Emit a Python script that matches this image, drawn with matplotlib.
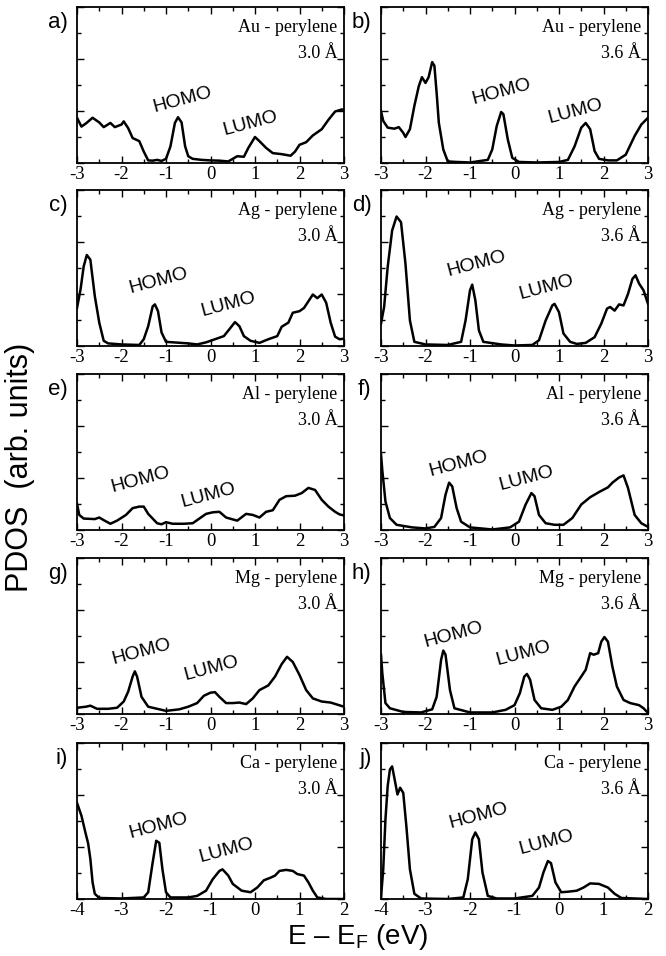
import numpy as np
import matplotlib.pyplot as plt
from matplotlib.ticker import MultipleLocator

plt.rcParams['axes.unicode_minus'] = False
plt.rcParams['mathtext.fontset'] = 'custom'
plt.rcParams['mathtext.rm'] = 'Liberation Sans'
plt.rcParams['mathtext.it'] = 'Liberation Sans:italic'

# ---- PDOS curves (energy in eV, PDOS in arb. units) ----
au30_e = [-3.0, -2.9, -2.8, -2.65, -2.5, -2.4, -2.25, -2.15, -2.0, -1.95, -1.85, -1.75, -1.6, -1.5,
          -1.4, -1.3, -1.2, -1.1, -1.0, -0.9, -0.8, -0.73, -0.65, -0.57, -0.5, -0.4, -0.2, 0.0,
          0.2, 0.4, 0.5, 0.6, 0.75, 0.85, 1.0, 1.1, 1.25, 1.4, 1.6, 1.8, 1.9, 2.0, 2.15, 2.3,
          2.5, 2.65, 2.8, 2.95, 3.0]
au30_pdos = [0.87, 0.70, 0.76, 0.87, 0.78, 0.69, 0.77, 0.69, 0.74, 0.80, 0.67, 0.48, 0.42, 0.22,
             0.05, 0.045, 0.06, 0.04, 0.08, 0.32, 0.77, 0.88, 0.78, 0.32, 0.13, 0.08, 0.06, 0.05,
             0.045, 0.03, 0.08, 0.13, 0.12, 0.29, 0.50, 0.42, 0.29, 0.19, 0.17, 0.14, 0.22, 0.35,
             0.40, 0.53, 0.65, 0.83, 0.99, 1.03, 1.02]

au36_e = [-3.0, -2.95, -2.85, -2.7, -2.6, -2.5, -2.45, -2.35, -2.25, -2.15, -2.08, -2.0, -1.93,
          -1.85, -1.8, -1.75, -1.7, -1.6, -1.5, -1.3, -1.0, -0.6, -0.5, -0.4, -0.3, -0.25, -0.15,
          -0.05, 0.1, 0.5, 1.0, 1.2, 1.35, 1.5, 1.6, 1.7, 1.8, 1.9, 2.1, 2.3, 2.5, 2.7, 2.85, 3.0]
au36_pdos = [1.00, 0.81, 0.68, 0.66, 0.69, 0.58, 0.50, 0.65, 1.10, 1.48, 1.65, 1.54, 1.65,
             1.94, 1.87, 1.35, 0.77, 0.26, 0.03, 0.02, 0.01, 0.06, 0.26, 0.71, 0.98, 0.94, 0.45,
             0.10, 0.02, 0.01, 0.02, 0.06, 0.32, 0.68, 0.77, 0.65, 0.23, 0.08, 0.05, 0.05, 0.16,
             0.52, 0.74, 0.87]

ag30_e = [-3.0, -2.92, -2.85, -2.78, -2.7, -2.6, -2.5, -2.4, -2.3, -2.0, -1.6, -1.5, -1.4, -1.3,
          -1.25, -1.18, -1.1, -1.0, -0.5, -0.3, -0.1, 0.1, 0.3, 0.45, 0.55, 0.65, 0.75, 0.9, 1.1,
          1.3, 1.5, 1.6, 1.75, 1.85, 2.0, 2.1, 2.2, 2.3, 2.4, 2.5, 2.6, 2.7, 2.8, 2.9, 3.0]
ag30_pdos = [0.73, 1.09, 1.53, 1.75, 1.66, 0.96, 0.45, 0.10, 0.05, 0.03, 0.02, 0.13, 0.38, 0.76,
             0.80, 0.67, 0.26, 0.08, 0.05, 0.03, 0.07, 0.13, 0.19, 0.35, 0.46, 0.38, 0.19, 0.10,
             0.06, 0.13, 0.19, 0.37, 0.45, 0.64, 0.67, 0.73, 0.86, 0.99, 0.92, 0.99, 0.83, 0.45,
             0.18, 0.13, 0.14]

ag36_e = [-3.0, -2.93, -2.85, -2.75, -2.65, -2.55, -2.45, -2.35, -2.25, -2.0, -1.5, -1.2, -1.1,
          -1.0, -0.95, -0.88, -0.8, -0.7, -0.3, 0.0, 0.4, 0.55, 0.7, 0.85, 0.9, 1.0, 1.1, 1.25,
          1.4, 1.6, 1.8, 1.95, 2.08, 2.15, 2.25, 2.35, 2.45, 2.55, 2.65, 2.72, 2.8, 2.9, 3.0]
ag36_pdos = [0.43, 0.75, 1.52, 2.22, 2.49, 2.38, 1.58, 0.49, 0.08, 0.03, 0.02, 0.08, 0.49,
             1.07, 1.18, 0.88, 0.30, 0.08, 0.03, 0.01, 0.02, 0.11, 0.49, 0.78, 0.81, 0.65, 0.24,
             0.08, 0.04, 0.06, 0.17, 0.43, 0.72, 0.75, 0.68, 0.80, 0.78, 1.00, 1.29, 1.36, 1.20,
             1.07, 0.81]

al30_e = [-3.0, -2.95, -2.85, -2.6, -2.5, -2.4, -2.25, -2.1, -1.9, -1.75, -1.6, -1.5, -1.4, -1.2,
          -1.1, -1.0, -0.85, -0.6, -0.4, -0.25, -0.1, 0.05, 0.2, 0.35, 0.6, 0.8, 0.95, 1.1, 1.25,
          1.4, 1.55, 1.7, 1.9, 2.05, 2.2, 2.35, 2.5, 2.65, 2.8, 2.9, 3.0]
al30_pdos = [0.51, 0.29, 0.22, 0.21, 0.24, 0.19, 0.12, 0.18, 0.29, 0.42, 0.45, 0.45, 0.31, 0.13,
             0.11, 0.15, 0.12, 0.12, 0.13, 0.22, 0.31, 0.34, 0.35, 0.24, 0.18, 0.31, 0.29, 0.24,
             0.35, 0.38, 0.58, 0.65, 0.66, 0.71, 0.81, 0.77, 0.58, 0.45, 0.35, 0.30, 0.28]

al36_e = [-3.0, -2.97, -2.9, -2.8, -2.65, -2.3, -2.0, -1.8, -1.65, -1.55, -1.47, -1.4, -1.3, -1.2,
          -1.0, -0.5, -0.1, 0.1, 0.25, 0.38, 0.45, 0.55, 0.7, 0.9, 1.1, 1.3, 1.5, 1.7, 1.9, 2.1,
          2.2, 2.35, 2.45, 2.55, 2.7, 2.85, 3.0]
al36_pdos = [1.46, 1.14, 0.55, 0.23, 0.10, 0.05, 0.03, 0.06, 0.23, 0.68, 0.91, 0.84, 0.42, 0.16,
             0.05, 0.01, 0.05, 0.16, 0.49, 0.71, 0.65, 0.29, 0.13, 0.10, 0.10, 0.23, 0.49, 0.63,
             0.73, 0.82, 0.91, 1.01, 1.05, 0.81, 0.29, 0.13, 0.06]

mg30_e = [-3.0, -2.8, -2.7, -2.55, -2.3, -2.1, -1.95, -1.85, -1.75, -1.7, -1.65, -1.55, -1.4, -1.0,
          -0.7, -0.5, -0.3, -0.15, 0.0, 0.1, 0.2, 0.35, 0.5, 0.65, 0.8, 0.95, 1.1, 1.3, 1.45, 1.6,
          1.72, 1.85, 2.0, 2.15, 2.3, 2.5, 2.7, 2.85, 3.0]
mg30_pdos = [0.12, 0.14, 0.16, 0.10, 0.10, 0.12, 0.24, 0.43, 0.72, 0.82, 0.72, 0.33, 0.14, 0.06,
             0.09, 0.14, 0.21, 0.35, 0.41, 0.42, 0.33, 0.21, 0.21, 0.22, 0.19, 0.30, 0.46, 0.55,
             0.72, 0.96, 1.10, 1.00, 0.75, 0.46, 0.30, 0.24, 0.22, 0.18, 0.14]

mg36_e = [-3.0, -2.97, -2.9, -2.8, -2.5, -2.1, -1.85, -1.75, -1.65, -1.6, -1.55, -1.45, -1.35,
          -1.0, -0.5, -0.2, 0.0, 0.12, 0.22, 0.28, 0.35, 0.45, 0.6, 0.85, 1.05, 1.2, 1.35, 1.5,
          1.6, 1.7, 1.78, 1.88, 1.95, 2.02, 2.1, 2.2, 2.3, 2.45, 2.6, 2.8, 2.9, 3.0]
mg36_pdos = [1.14, 0.78, 0.21, 0.11, 0.04, 0.03, 0.09, 0.33, 1.04, 1.22, 1.14, 0.46, 0.11,
             0.03, 0.03, 0.08, 0.17, 0.40, 0.72, 0.77, 0.66, 0.27, 0.11, 0.08, 0.14, 0.27, 0.53,
             0.72, 0.85, 1.17, 1.14, 1.17, 1.39, 1.48, 1.39, 0.91, 0.53, 0.27, 0.21, 0.17, 0.11,
             0.02]

ca30_e = [-4.0, -3.9, -3.8, -3.75, -3.7, -3.65, -3.6, -3.5, -3.0, -2.5, -2.4, -2.3, -2.22, -2.15,
          -2.08, -2.0, -1.9, -1.5, -1.3, -1.1, -0.95, -0.8, -0.73, -0.6, -0.5, -0.3, -0.1, 0.05,
          0.2, 0.35, 0.45, 0.55, 0.7, 0.85, 0.95, 1.1, 1.2, 1.3, 1.4, 1.6, 2.0]
ca30_pdos = [1.85, 1.60, 1.24, 1.07, 0.77, 0.32, 0.10, 0.02, 0.01, 0.03, 0.13, 0.70, 1.12, 1.08,
             0.57, 0.13, 0.03, 0.03, 0.06, 0.16, 0.38, 0.54, 0.57, 0.45, 0.29, 0.16, 0.13, 0.22,
             0.36, 0.41, 0.45, 0.54, 0.56, 0.54, 0.48, 0.45, 0.32, 0.16, 0.03, 0.0, 0.0]

ca36_e = [-4.0, -3.95, -3.9, -3.85, -3.8, -3.75, -3.7, -3.63, -3.57, -3.5, -3.43, -3.35, -3.25,
          -3.1, -2.5, -2.15, -2.05, -1.95, -1.88, -1.8, -1.72, -1.6, -1.4, -1.0, -0.6, -0.45,
          -0.35, -0.25, -0.18, -0.08, 0.05, 0.2, 0.4, 0.55, 0.7, 0.9, 1.1, 1.25, 1.4, 2.0]
ca36_pdos = [0.03, 0.57, 1.53, 2.17, 2.49, 2.55, 2.33, 2.01, 2.14, 2.04, 1.40, 0.57, 0.10,
             0.01, 0.0, 0.03, 0.38, 1.15, 1.28, 1.15, 0.51, 0.06, 0.01, 0.01, 0.06, 0.22,
             0.51, 0.73, 0.69, 0.32, 0.13, 0.14, 0.16, 0.22, 0.30, 0.29, 0.22, 0.10, 0.02, 0.0]

panel_tags = ['a)', 'b)', 'c)', 'd)', 'e)', 'f)', 'g)', 'h)', 'i)', 'j)']
metals = ['Au', 'Au', 'Ag', 'Ag', 'Al', 'Al', 'Mg', 'Mg', 'Ca', 'Ca']
distances = ['3.0 Å', '3.6 Å'] * 5
curves = [(au30_e, au30_pdos), (au36_e, au36_pdos), (ag30_e, ag30_pdos), (ag36_e, ag36_pdos),
          (al30_e, al30_pdos), (al36_e, al36_pdos), (mg30_e, mg30_pdos), (mg36_e, mg36_pdos),
          (ca30_e, ca30_pdos), (ca36_e, ca36_pdos)]
xranges = [(-3, 3)] * 8 + [(-4, 2)] * 2

# HOMO / LUMO label centres (data coords)
homo_xy = [(-0.62, 1.21), (-0.29, 1.37), (-1.17, 1.26), (-0.85, 1.58), (-1.58, 0.96),
           (-1.26, 1.28), (-1.55, 1.20), (-1.37, 1.52), (-2.17, 1.41), (-1.81, 1.60)]
lumo_xy = [(0.89, 0.77), (1.36, 0.99), (0.40, 0.81), (0.72, 1.13), (-0.05, 0.67),
           (0.27, 0.99), (0.03, 0.88), (0.20, 1.17), (-0.64, 0.93), (-0.28, 1.09)]

fig = plt.figure(figsize=(6.66, 9.56), dpi=100, facecolor='w')

W, H = 666.0, 956.0
col_left = [77, 381]
row_top = [7, 190, 374, 558, 743]
ax_w, ax_h = 267, 156

serif = ['Liberation Serif', 'DejaVu Serif']
sans = ['Liberation Sans', 'DejaVu Sans']

for i in range(10):
    r, c = divmod(i, 2)
    ax = fig.add_axes([col_left[c] / W, 1 - (row_top[r] + ax_h) / H, ax_w / W, ax_h / H])
    e, p = curves[i]
    ax.plot(e, p, color='black', lw=1.8, solid_joinstyle='round')
    ax.set_xlim(*xranges[i])
    ax.set_ylim(0, 3)
    ax.xaxis.set_major_locator(MultipleLocator(1))
    ax.xaxis.set_minor_locator(MultipleLocator(0.5))
    ax.yaxis.set_major_locator(MultipleLocator(1))
    ax.yaxis.set_minor_locator(MultipleLocator(0.5))
    ax.tick_params(which='both', direction='in', top=True, right=True, width=1.0)
    ax.tick_params(which='major', length=5)
    ax.tick_params(which='minor', length=3)
    ax.tick_params(axis='y', labelleft=False)
    ax.tick_params(axis='x', labelsize=13.5, pad=2)
    for lab in ax.get_xticklabels():
        lab.set_family(serif)
    ax.xaxis.set_major_formatter(plt.FuncFormatter(lambda v, pos: '%d' % round(v)))
    for sp in ax.spines.values():
        sp.set_linewidth(1.3)

    ax.text(0.975, 0.84, metals[i] + ' - perylene', transform=ax.transAxes,
            ha='right', va='baseline', fontsize=13, family=serif)
    ax.text(0.975, 0.675, distances[i], transform=ax.transAxes,
            ha='right', va='baseline', fontsize=13, family=serif)
    ax.text(-0.035, 0.9, panel_tags[i], transform=ax.transAxes,
            ha='right', va='center', fontsize=16, family=sans)
    ax.text(homo_xy[i][0], homo_xy[i][1], 'HOMO', ha='center', va='center',
            rotation=15, fontsize=14, family=sans)
    ax.text(lumo_xy[i][0], lumo_xy[i][1], 'LUMO', ha='center', va='center',
            rotation=15, fontsize=14, family=sans)

fig.text(20 / W, 1 - 467 / H, 'PDOS  (arb. units)', rotation=90, ha='center', va='center',
         fontsize=22, family=sans)
fig.text(358 / W, 1 - 937 / H, 'E – E$_{\\rm F}$ (eV)', ha='center', va='center',
         fontsize=20, family=sans)

plt.savefig('out.png', dpi=100, facecolor='w')
